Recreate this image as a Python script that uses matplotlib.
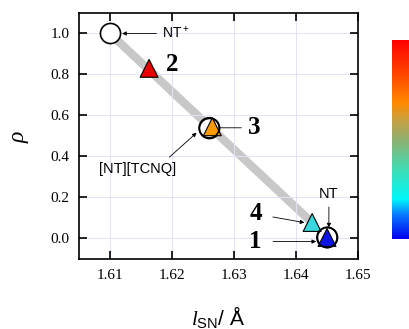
import numpy as np
import matplotlib.pyplot as plt
from matplotlib.colors import LinearSegmentedColormap

plt.rcParams['mathtext.fontset'] = 'custom'
plt.rcParams['mathtext.it'] = 'Liberation Serif:italic'
plt.rcParams['mathtext.rm'] = 'Liberation Sans'

# data
ref_names = ['NT$^+$', '[NT][TCNQ]', 'NT']
ref_l = [1.610, 1.626, 1.645]
ref_rho = [1.00, 0.54, 0.005]

sample_ids = ['1', '2', '3', '4']
sample_l = [1.645, 1.6163, 1.6265, 1.6426]
sample_rho = [0.005, 0.83, 0.545, 0.078]
sample_colors = ['#0a14e6', '#e80000', '#ff9a00', '#38d8dc']

trend_l = [1.610, 1.6425]
trend_rho = [1.00, 0.08]

fig = plt.figure(figsize=(4.10, 3.29), dpi=100)
ax = fig.add_axes([0.1927, 0.2128, 0.6805, 0.7477])

ax.set_xlim(1.605, 1.65)
ax.set_ylim(-0.1, 1.1)
ax.set_xticks([1.61, 1.62, 1.63, 1.64, 1.65])
ax.set_yticks([0.0, 0.2, 0.4, 0.6, 0.8, 1.0])
ax.set_xticklabels(['1.61', '1.62', '1.63', '1.64', '1.65'], family='Liberation Serif', fontsize=11)
ax.set_yticklabels(['0.0', '0.2', '0.4', '0.6', '0.8', '1.0'], family='Liberation Serif', fontsize=11)
ax.tick_params(direction='in', length=6, width=1.2, top=True, right=True, pad=7)
for s in ax.spines.values():
    s.set_linewidth(1.2)
ax.grid(True, color='#e2e2f8', linewidth=0.7, zorder=0)

# trend line
ax.plot(trend_l, trend_rho, color='#c8c8c8', linewidth=6, solid_capstyle='butt', zorder=1)

# reference circles
ax.scatter(ref_l, ref_rho, s=210, facecolor='white', edgecolor='black', linewidth=1.2, zorder=2)
ax.scatter(ref_l[1:], ref_rho[1:], s=210, facecolor='none', edgecolor='black', linewidth=1.2, zorder=4)

# samples
ax.scatter(sample_l, sample_rho, marker='^', s=165, c=sample_colors, edgecolor='black', linewidth=0.8, zorder=3)

# annotations
arr = dict(arrowstyle='-|>', color='black', lw=0.6, mutation_scale=6)
sans = 'Liberation Sans'
serif = 'Liberation Serif'
ax.annotate('NT$^+$', xy=(1.6115, 1.0), xytext=(1.6184, 1.0), fontsize=10, family=sans,
            va='center', ha='left', arrowprops=arr)
ax.annotate('[NT][TCNQ]', xy=(1.6243, 0.525), xytext=(1.6144, 0.34), fontsize=10.5, family=sans,
            va='center', ha='center', arrowprops=dict(arr, relpos=(0.85, 1.0)))
ax.annotate('NT', xy=(1.6453, 0.04), xytext=(1.6453, 0.215), fontsize=10.5, family=sans,
            va='center', ha='center', arrowprops=arr)
ax.annotate('4', xy=(1.6418, 0.075), xytext=(1.6345, 0.12), fontsize=18, family=serif,
            weight='bold', va='center', ha='right', arrowprops=dict(arr, shrinkA=6))
ax.annotate('1', xy=(1.6437, -0.015), xytext=(1.6345, -0.015), fontsize=18, family=serif,
            weight='bold', va='center', ha='right', arrowprops=dict(arr, shrinkA=6))
ax.text(1.619, 0.85, '2', fontsize=18, family=serif, weight='bold', va='center')
ax.annotate('3', xy=(1.6277, 0.54), xytext=(1.6323, 0.54), fontsize=18, family=serif,
            weight='bold', va='center', ha='left',
            arrowprops=dict(arrowstyle='-', color='black', lw=0.6, shrinkA=3, shrinkB=0))

ax.set_ylabel(r'$\rho$', fontsize=17, labelpad=14)
ax.set_xlabel(r'$l_{\mathrm{SN}}$/ Å', fontsize=15, family=sans, labelpad=16)

# colour bar
cmap = LinearSegmentedColormap.from_list('rb', [
    (0.0, '#0000f0'), (0.12, '#0a78ff'), (0.2, '#00f8f8'), (0.35, '#40dcb4'),
    (0.5, '#90b070'), (0.6, '#c8a040'), (0.68, '#ff8c00'), (0.82, '#ff4a00'), (1.0, '#ff0000')])
cax = fig.add_axes([0.956, 0.2736, 0.05, 0.6048])
cax.imshow(np.linspace(0, 1, 256)[:, None], aspect='auto', cmap=cmap, origin='lower')
cax.set_axis_off()

fig.savefig('out.png', dpi=100)
